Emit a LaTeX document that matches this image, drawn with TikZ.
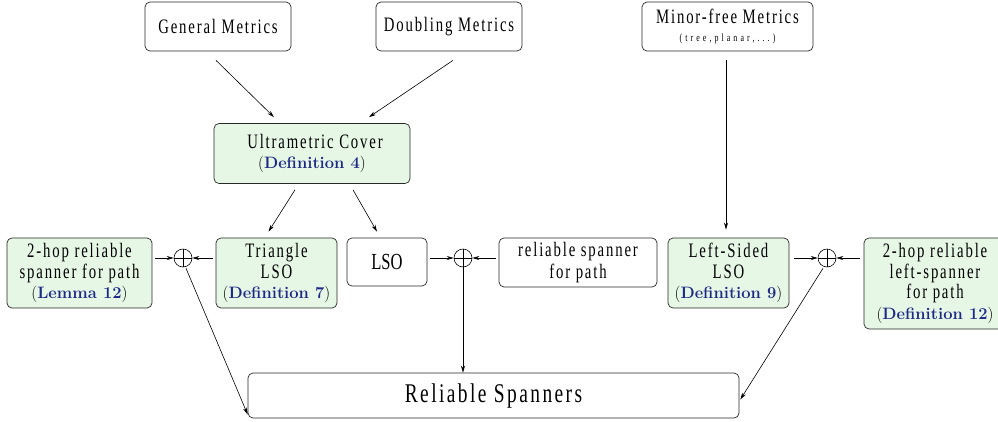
\documentclass[tikz,border=0pt]{standalone}
\usepackage{fontspec}
\usetikzlibrary{arrows.meta,calc}
\newfontfamily\mfont[FakeStretch=0.72,LetterSpace=9]{Liberation Serif}
\definecolor{boxgreen}{RGB}{230,247,230}
\definecolor{linkblue}{RGB}{30,40,135}
\definecolor{boxline}{RGB}{40,40,40}
\newcommand{\dref}[1]{{\normalfont\fontsize{16.5}{20.5}\selectfont(\textcolor{linkblue}{\textbf{#1}})}}
\begin{document}
\begin{tikzpicture}[x=1pt,y=-1pt,
  box/.style={draw=boxline,line width=0.7pt,rounded corners=5pt,align=center,inner sep=0pt,font=\mfont\fontsize{20.5}{20.5}\selectfont},
  gbox/.style={box,fill=boxgreen},
  oplus/.style={draw,circle,line width=0.6pt,minimum size=18pt,inner sep=0pt,
    path picture={\draw[line width=0.6pt] (path picture bounding box.north) -- (path picture bounding box.south)
      (path picture bounding box.west) -- (path picture bounding box.east);}},
  arr/.style={-{Stealth[length=7pt,width=4pt]},line width=0.6pt}]
\useasboundingbox (0,0) rectangle (998,421);
\node[box,minimum width=146pt,minimum height=49pt] (gm) at (218,26.5) {General Metrics};
\node[box,minimum width=146pt,minimum height=49pt] (dm) at (449,26.5) {Doubling Metrics};
\node[box,minimum width=171pt,minimum height=49pt] (mf) at (727.5,26.5) {Minor-free Metrics\\[-3pt]{\addfontfeatures{LetterSpace=28}\fontsize{11}{12}\selectfont (tree,planar,...)}};
\node[gbox,minimum width=196pt,minimum height=60pt] (uc) at (312,153.5) {\hspace*{6pt}Ultrametric Cover\\\dref{Definition 4}};
\node[gbox,minimum width=145pt,minimum height=70pt] (hopa) at (79.5,273) {2-hop reliable\\spanner for path\\\dref{Lemma 12}};
\node[gbox,minimum width=121pt,minimum height=70pt] (tri) at (276.5,273) {Triangle\\LSO\\\dref{Definition 7}};
\node[box,minimum width=80pt,minimum height=48pt] (lso) at (387,262) {\addfontfeatures{LetterSpace=0}\fontsize{23}{23}\selectfont LSO};
\node[box,minimum width=158pt,minimum height=49pt] (rsp) at (578,262.5) {reliable spanner\\[1pt]for path};
\node[gbox,minimum width=121pt,minimum height=70pt] (ls) at (728.5,273) {Left-Sided\\LSO\\\dref{Definition 9}};
\node[gbox,minimum width=142pt,minimum height=91pt] (hopb) at (935,283.5) {2-hop reliable\\left-spanner\\for path\\\dref{Definition 12}};
\node[box,minimum width=491pt,minimum height=45pt,font=\mfont\fontsize{27}{28}\selectfont] (rs) at (493.5,395.5) {Reliable Spanners};
\node[oplus] (oa) at (183,258) {};
\node[oplus] (ob) at (463,258) {};
\node[oplus] (oc) at (827,258) {};
% top arrows
\draw[arr] ($(gm.south)+(-2,9)$) -- ($(uc.north)+(-38,-6)$);
\draw[arr] ($(dm.south)+(4,9)$) -- ($(uc.north)+(57,-6)$);
\draw[arr] ($(mf.south)+(-1.5,9)$) -- ($(ls.north)+(-2.5,-8)$);
\draw[arr] ($(uc.south)+(-17,6)$) -- ($(tri.north)+(-8,-6)$);
\draw[arr] ($(uc.south)+(41,6)$) -- ($(lso.north)+(-10,-6)$);
% side arrows
\draw[arr] ($(hopa.east)+(3,-15)$) -- (oa.west);
\draw[arr] ($(tri.west)+(-3,-15)$) -- (oa.east);
\draw[arr] ($(lso.east)+(3,-4)$) -- (ob.west);
\draw[arr] ($(rsp.west)+(-3,-4.5)$) -- (ob.east);
\draw[arr] ($(ls.east)+(5,-15)$) -- (oc.west);
\draw[arr] ($(hopb.west)+(-4,-25.5)$) -- (oc.east);
% bottom arrows
\draw[arr] (oa.south) ++(3,1) -- ($(rs.west)+(0,19)$);
\draw[arr] (ob.south) -- (ob.south |- rs.north);
\draw[arr] ($(oc.south)+(-4,1)$) -- ($(rs.east)+(1,4)$);
\end{tikzpicture}
\end{document}
